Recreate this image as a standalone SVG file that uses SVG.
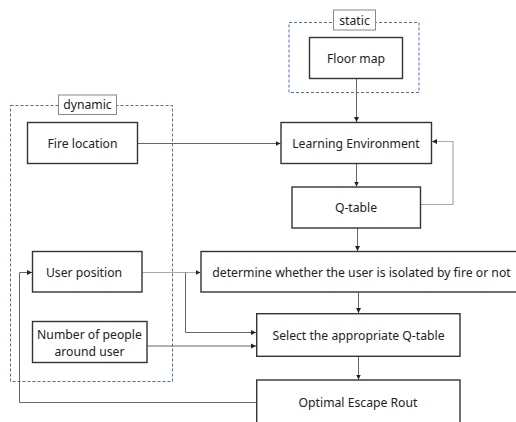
<svg xmlns="http://www.w3.org/2000/svg" width="516" height="422" viewBox="0 0 516 422">
<defs>
<marker id="ah" markerWidth="6" markerHeight="6" refX="5" refY="3" orient="auto" markerUnits="userSpaceOnUse">
<path d="M0,0.5 L5,3 L0,5.5 Z" fill="#222"/>
</marker>
<style>
.box{fill:#fff;stroke:#333;stroke-width:1.4}
.grp{fill:none;stroke:#4a6fb5;stroke-width:1;stroke-dasharray:3,2}
.lbl{fill:#fff;stroke:#888;stroke-width:1}
.t{font-family:"Noto Sans","Liberation Sans",sans-serif;font-size:12.2px;fill:#222;text-anchor:middle;dominant-baseline:central}
.c{fill:none;stroke:#666;stroke-width:1}
.cl{fill:none;stroke:#aaa;stroke-width:1.2}
</style>
</defs>
<rect width="516" height="422" fill="#fff"/>
<g id="static-group">
<rect class="grp" x="289" y="22.5" width="130" height="70"/>
<rect class="lbl" x="333.5" y="10" width="42" height="20"/>
<text class="t" x="354.5" y="20">static</text>
</g>
<g id="dynamic-group">
<rect class="grp" x="10.5" y="105.5" width="162" height="276"/>
<rect class="lbl" x="58.5" y="95" width="58" height="19.5"/>
<text class="t" x="87.5" y="104.5">dynamic</text>
</g>
<g id="connectors">
<path class="c" d="M356.5,78 V122" marker-end="url(#ah)"/>
<path class="c" d="M137.5,143.5 H280.5" marker-end="url(#ah)"/>
<path class="c" d="M356.5,164 V186.5" marker-end="url(#ah)"/>
<path class="cl" d="M420.5,204.5 H453 V141.5 H432" marker-end="url(#ah)"/>
<path class="c" d="M357.5,228 V251" marker-end="url(#ah)"/>
<path class="cl" d="M142,272.5 H200.5" marker-end="url(#ah)"/>
<path class="c" d="M185.5,272.5 V332.5 H256" marker-end="url(#ah)"/>
<path class="c" d="M147,346 H256" marker-end="url(#ah)"/>
<path class="c" d="M358.5,292.5 V313" marker-end="url(#ah)"/>
<path class="c" d="M358.5,356.5 V379.5" marker-end="url(#ah)"/>
<path class="c" d="M256.5,402.5 H19.5 V272.5 H32" marker-end="url(#ah)"/>
</g>
<g id="floor-map">
<rect class="box" x="309.5" y="37.5" width="93" height="41"/>
<text class="t" x="356" y="58">Floor map</text>
</g>
<g id="fire-location">
<rect class="box" x="27.5" y="122.5" width="110" height="41"/>
<text class="t" x="82.5" y="143">Fire location</text>
</g>
<g id="learning-environment">
<rect class="box" x="281" y="122.5" width="150.5" height="41"/>
<text class="t" x="356" y="143">Learning Environment</text>
</g>
<g id="q-table">
<rect class="box" x="292" y="187" width="128.5" height="41"/>
<text class="t" x="356" y="207.5">Q-table</text>
</g>
<g id="user-position">
<rect class="box" x="32.5" y="251.5" width="109.5" height="40.5"/>
<text class="t" x="84" y="272">User position</text>
</g>
<g id="determine">
<rect class="box" x="201" y="251.5" width="318" height="40.5"/>
<text class="t" x="361.5" y="272">determine whether the user is isolated by fire or not</text>
</g>
<g id="number-of-people">
<rect class="box" x="32.5" y="321.5" width="114.5" height="41"/>
<text class="t" x="89.5" y="334.8">Number of people</text>
<text class="t" x="89.5" y="351.7">around user</text>
</g>
<g id="select-q-table">
<rect class="box" x="256.7" y="313.7" width="203.3" height="42.6"/>
<text class="t" x="358.5" y="335.5">Select the appropriate Q-table</text>
</g>
<g id="optimal-escape">
<rect class="box" x="256.7" y="380" width="203.3" height="50"/>
<text class="t" x="358" y="402">Optimal Escape Rout</text>
</g>
</svg>
